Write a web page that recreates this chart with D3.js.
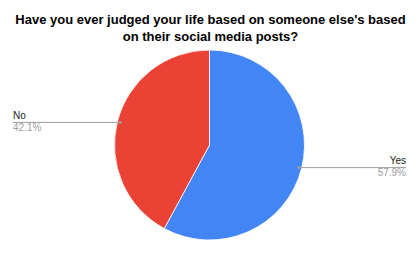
<!DOCTYPE html>
<html>
<head>
<meta charset="utf-8">
<script src="https://cdn.jsdelivr.net/npm/d3@7"></script>
<style>
  body { margin: 0; background: #fff; }
  svg { display: block; font-family: Arial, "Liberation Sans", sans-serif; }
</style>
</head>
<body>
<svg id="chart" width="419" height="253"></svg>
<script>
const titleLines = ["Have you ever judged your life based on someone else's based", "on their social media posts?"];
const answers = ["Yes", "No"];
const shares = [57.9, 42.1];
const colors = ["#4285f4", "#ea4335"];

const svg = d3.select("#chart"),
  width = +svg.attr("width"),
  height = +svg.attr("height");

svg.append("rect").attr("width", width).attr("height", height).attr("fill", "#fff");

// title
svg.append("g").selectAll("text")
  .data(titleLines)
  .enter()
  .append("text")
  .attr("x", width / 2 + 1)
  .attr("y", (d, i) => 24 + i * 17)
  .attr("text-anchor", "middle")
  .attr("font-size", 13)
  .attr("font-weight", "bold")
  .attr("fill", "#000")
  .text(d => d);

const cx = 209.5, cy = 145, radius = 95;
const data = answers.map((a, i) => ({ answer: a, value: shares[i], color: colors[i] }));

const pie = d3.pie().sort(null).value(d => d.value);
const arc = d3.arc().innerRadius(0).outerRadius(radius);
const dotArc = d3.arc().innerRadius(92).outerRadius(92);

const g = svg.append("g").attr("transform", "translate(" + cx + "," + cy + ")");
const slices = pie(data);

g.selectAll("path")
  .data(slices)
  .enter()
  .append("path")
  .attr("d", arc)
  .attr("fill", d => d.data.color)
  .attr("stroke", "#fff")
  .attr("stroke-width", 0.8);

// leader lines + labels
slices.forEach(d => {
  const p = dotArc.centroid(d);
  const right = p[0] > 0;
  const endX = right ? 406 - cx : 13 - cx;
  g.append("line")
    .attr("x1", p[0]).attr("y1", p[1])
    .attr("x2", endX).attr("y2", p[1])
    .attr("stroke", "#9e9e9e").attr("stroke-width", 1);
  g.append("circle")
    .attr("cx", p[0]).attr("cy", p[1]).attr("r", 1.5)
    .attr("fill", "#9e9e9e");
  const anchor = right ? "end" : "start";
  g.append("text")
    .attr("x", endX).attr("y", p[1] - 3.5)
    .attr("text-anchor", anchor)
    .attr("font-size", 10)
    .attr("fill", "#222")
    .text(d.data.answer);
  g.append("text")
    .attr("x", endX).attr("y", p[1] + 8.5)
    .attr("text-anchor", anchor)
    .attr("font-size", 10)
    .attr("fill", "#9e9e9e")
    .text(d.data.value.toFixed(1) + "%");
});
</script>
</body>
</html>
